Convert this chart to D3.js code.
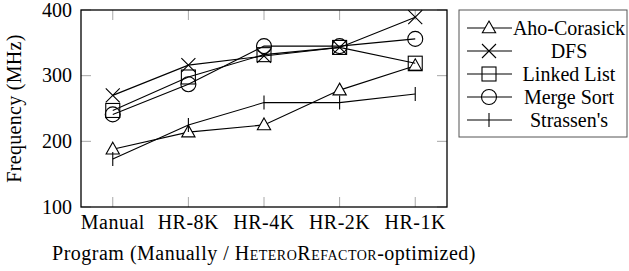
<!DOCTYPE html>
<html>
<head>
<meta charset="utf-8">
<title>Frequency per program</title>
<style type="text/css">
	body { margin: 0; background: white; }
</style>
</head>
<body>
<svg id="chart"></svg>
<script src="https://cdn.jsdelivr.net/npm/d3@7/dist/d3.min.js"></script>
<script>
	var programs = ["Manual", "HR-8K", "HR-4K", "HR-2K", "HR-1K"];
	var seriesNames = ["Aho-Corasick", "DFS", "Linked List", "Merge Sort", "Strassen's"];
	var markers = ["triangle", "cross", "square", "circle", "plus"];
	var ahoCorasick = [188, 214, 225, 278, 315];
	var dfs = [270, 316, 330, 343, 389];
	var linkedList = [247, 298, 332, 343, 319];
	var mergeSort = [241, 287, 345, 345, 356];
	var strassens = [173, 225, 259, 259, 272];
	var yTicks = [100, 200, 300, 400];

	var allSeries = [ahoCorasick, dfs, linkedList, mergeSort, strassens];

	var W = 629, H = 271;
	var margin = {top: 10, left: 81, right: 182, bottom: 64};
	var width = W - margin.left - margin.right,
		height = H - margin.top - margin.bottom;

	var svg = d3.select("#chart").attr("width", W).attr("height", H);
	var chart = svg.append("g").attr("transform", `translate(${margin.left}, ${margin.top})`);

	// every text gets its font set directly
	function label(g, spacing) {
		return g.append("text")
			.style("font-family", "'Liberation Serif', serif").style("font-size", "20px")
			.style("letter-spacing", (spacing || 0) + "px")
			.attr("fill", "black");
	}

	var x = d3.scalePoint().domain(programs).range([0, width]).padding(0.42);
	var y = d3.scaleLinear().domain([100, 400]).range([height, 0]);

	// tick marks on all four sides, pointing inside
	var tickLen = 10, tickColor = "#a8a8a8";
	programs.forEach(function(p) {
		chart.append("line").attr("x1", x(p)).attr("x2", x(p)).attr("y1", height).attr("y2", height - tickLen)
			.attr("stroke", tickColor).attr("stroke-width", 1);
		chart.append("line").attr("x1", x(p)).attr("x2", x(p)).attr("y1", 0).attr("y2", tickLen)
			.attr("stroke", tickColor).attr("stroke-width", 1);
		label(chart, 0.5).attr("x", x(p)).attr("y", height + 22)
			.attr("text-anchor", "middle").text(p);
	});
	yTicks.forEach(function(t) {
		chart.append("line").attr("x1", 0).attr("x2", tickLen).attr("y1", y(t)).attr("y2", y(t))
			.attr("stroke", tickColor).attr("stroke-width", 1);
		chart.append("line").attr("x1", width).attr("x2", width - tickLen).attr("y1", y(t)).attr("y2", y(t))
			.attr("stroke", tickColor).attr("stroke-width", 1);
		label(chart).attr("x", -9).attr("y", y(t)).attr("dy", "0.33em")
			.attr("text-anchor", "end").text(t);
	});

	function drawMarker(g, type, cx, cy) {
		var s = 7;
		var m = g.append("g").attr("transform", `translate(${cx}, ${cy})`)
			.attr("fill", "none").attr("stroke", "black").attr("stroke-width", 1.1);
		if (type === "triangle") {
			m.append("path").attr("d", `M0,${-s} L${s * 0.95},${s * 0.68} L${-s * 0.95},${s * 0.68} Z`).attr("fill", "white");
		} else if (type === "cross") {
			m.append("path").attr("d", `M${-s},${-s} L${s},${s} M${-s},${s} L${s},${-s}`);
		} else if (type === "square") {
			m.append("rect").attr("x", -s).attr("y", -s).attr("width", 2 * s).attr("height", 2 * s);
		} else if (type === "circle") {
			m.append("circle").attr("r", s + 0.5);
		} else if (type === "plus") {
			m.append("path").attr("d", `M0,${-s} L0,${s}`);
		}
	}

	var line = d3.line().x((d, i) => x(programs[i])).y(d => y(d));

	allSeries.forEach(function(vals, k) {
		chart.append("path").datum(vals).attr("d", line)
			.attr("fill", "none").attr("stroke", "black").attr("stroke-width", 1.1);
		vals.forEach(function(v, i) {
			drawMarker(chart, markers[k], x(programs[i]), y(v));
		});
	});

	// frame
	chart.append("rect").attr("width", width).attr("height", height)
		.attr("fill", "none").attr("stroke", "black").attr("stroke-width", 1.3);

	// axis labels
	label(chart, 0.3)
		.attr("transform", `translate(${-60}, ${height / 2}) rotate(-90)`)
		.attr("text-anchor", "middle").text("Frequency (MHz)");

	var xl = label(chart, 0.5)
		.attr("x", width / 2).attr("y", height + 53).attr("text-anchor", "middle");
	xl.append("tspan").text("Program (Manually / ");
	xl.append("tspan").style("font-variant", "small-caps").text("HeteroRefactor");
	xl.append("tspan").text("-optimized)");

	// legend
	var lx = 459, ly = 10, lw = 168, lh = 127, rowH = 23;
	var legend = svg.append("g");
	legend.append("rect").attr("x", lx).attr("y", ly).attr("width", lw).attr("height", lh)
		.attr("fill", "white").attr("stroke", "#555").attr("stroke-width", 1);
	seriesNames.forEach(function(name, k) {
		var cy = ly + 18 + k * rowH;
		legend.append("line").attr("x1", lx + 8).attr("x2", lx + 53).attr("y1", cy).attr("y2", cy)
			.attr("stroke", "black").attr("stroke-width", 1.1);
		drawMarker(legend, markers[k], lx + 30, cy);
		label(legend).attr("x", lx + 110).attr("y", cy)
			.attr("dy", "0.33em").attr("text-anchor", "middle").text(name);
	});
</script>
</body>
</html>
